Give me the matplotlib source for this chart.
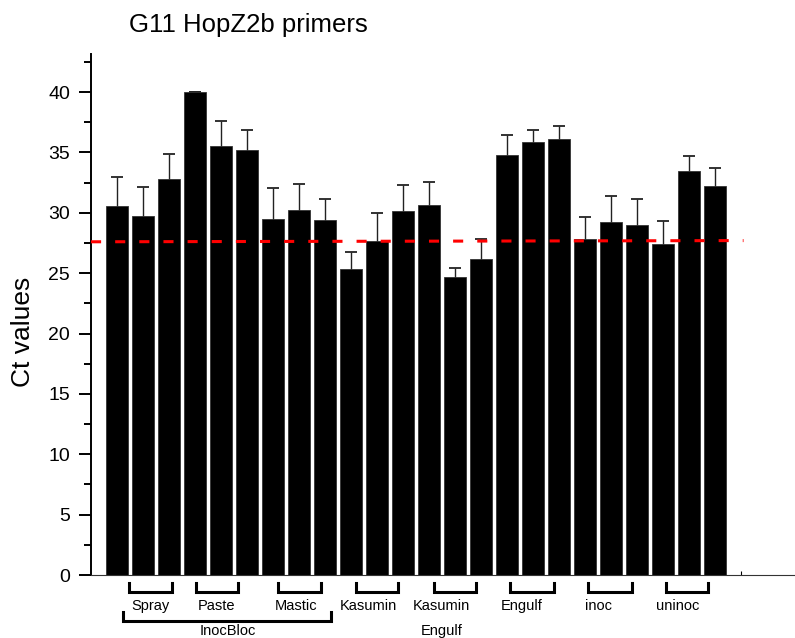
import matplotlib
matplotlib.use("Agg")
import matplotlib.pyplot as plt
from matplotlib.ticker import MultipleLocator
import numpy as np

plt.rcParams["font.family"] = ["Liberation Sans", "DejaVu Sans"]

# Ct values per sample (24 bars) and upper error
ct_values = [30.58, 29.76, 32.82, 40.0, 35.5, 35.2, 29.46, 30.23, 29.43,
             25.32, 27.63, 30.14, 30.61, 24.71, 26.17, 34.75, 35.86, 36.11,
             27.8, 29.26, 28.96, 27.41, 33.46, 32.19]
ct_errors = [2.42, 2.40, 2.05, 0.0, 2.10, 1.63, 2.59, 2.18, 1.74,
             1.45, 2.37, 2.16, 1.96, 0.69, 1.63, 1.72, 0.99, 1.07,
             1.85, 2.15, 2.15, 1.93, 1.27, 1.49]

# red cutoff line (start/end)
cutoff_x = [0.0, 25.1]
cutoff_y = [27.6, 27.7]

# treatment brackets under the axis: label, label x, bracket start, bracket end
group_labels = ["Spray", "Paste", "Mastic", "Kasumin", "Kasumin", "Engulf", "inoc", "uninoc"]
group_label_x = [2.27, 4.83, 7.88, 10.65, 13.46, 16.56, 19.54, 22.58]
group_start = [1.46, 4.04, 7.2, 10.2, 13.2, 16.1, 19.1, 22.1]
group_end = [3.12, 5.67, 8.83, 11.8, 14.8, 17.8, 20.8, 23.75]

# second row labels
outer_labels = ["InocBloc", "Engulf"]
outer_label_x = [5.26, 13.49]
outer_start = [1.24]
outer_end = [9.23]

fig = plt.figure(figsize=(7.95, 6.38), dpi=100)
ax = fig.add_axes([0.1145, 0.0987, 0.8855, 0.8166])

x = np.arange(1, len(ct_values) + 1)
# error bars sit behind the bars so only the upper half shows
ax.errorbar(x, ct_values, yerr=ct_errors, fmt="none",
            ecolor="#222222", elinewidth=1.0, capsize=4, capthick=1.3, zorder=1)
ax.bar(x, ct_values, width=0.87, color="black", edgecolor="#333333", linewidth=0.6, zorder=2)

ax.plot(cutoff_x, cutoff_y, color="#ff0000", linewidth=2.2, dashes=(3.3, 4.6), zorder=4)

ax.set_xlim(0, 27.08)
ax.set_ylim(0, 43.15)

ax.spines["top"].set_visible(False)
ax.spines["right"].set_visible(False)
ax.spines["left"].set_linewidth(1.4)
ax.spines["bottom"].set_linewidth(0.8)
ax.spines["bottom"].set_color("#333333")

ax.yaxis.set_major_locator(MultipleLocator(5))
ax.yaxis.set_minor_locator(MultipleLocator(2.5))
ax.tick_params(axis="y", which="major", direction="out", length=9, width=1.4,
               labelsize=14, pad=6)
ax.tick_params(axis="y", which="minor", direction="out", length=5, width=1.4)
ax.set_xticks([25])
ax.tick_params(axis="x", direction="in", length=3, width=0.8, labelbottom=False)

# brackets below the axis
tick_top, tick_bot = -0.7, -1.4
for s, e in zip(group_start, group_end):
    ax.plot([s, s, e, e], [tick_top, tick_bot, tick_bot, tick_top], color="black",
            linewidth=2.2, clip_on=False, solid_joinstyle="miter")
for lab, lx in zip(group_labels, group_label_x):
    ax.text(lx, -2.55, lab, ha="center", va="center", fontsize=10.5)

for s, e in zip(outer_start, outer_end):
    ax.plot([s, s, e, e], [-3.05, -3.8, -3.8, -3.05], color="black",
            linewidth=2.2, clip_on=False, solid_joinstyle="miter")
for lab, lx in zip(outer_labels, outer_label_x):
    ax.text(lx, -4.65, lab, ha="center", va="center", fontsize=10.5)

fig.text(129 / 795, 0.95, "G11 HopZ2b primers", fontsize=18.5, ha="left", va="baseline")
fig.text(23 / 795, 0.48, "Ct values", fontsize=19, rotation=90, ha="center", va="center")

fig.savefig("out.png", dpi=100)
